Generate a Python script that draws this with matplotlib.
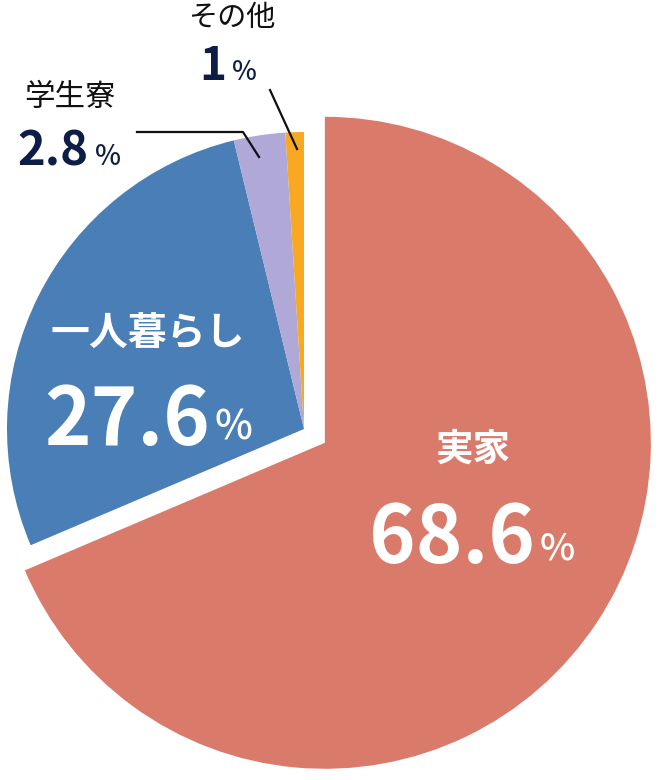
import matplotlib.pyplot as plt

plt.rcParams['font.family'] = ['Noto Sans CJK JP', 'DejaVu Sans']

labels = ['実家', '一人暮らし', '学生寮', 'その他']
values = [68.6, 27.6, 2.8, 1.0]
colors = ['#DA7A6B', '#4A7EB6', '#B0A8D6', '#F8A821']
value_text = ['68.6', '27.6', '2.8', '1']

W, H = 660, 780
fig = plt.figure(figsize=(6.6, 7.8), dpi=100)
ax = fig.add_axes([0, 0, 1, 1])

def py(y):
    # pixel y (top-down) -> data y
    return H - y

cx, cy = 304, py(429)
r_small = 297
wedges, _ = ax.pie(values, colors=colors, startangle=90, counterclock=False,
                   center=(cx, cy), radius=r_small, explode=[25, 0, 0, 0],
                   wedgeprops=dict(linewidth=0), frame=True)
# the main slice is drawn larger
wedges[0].set_radius(326)
ax.set_xlim(0, W)
ax.set_ylim(0, H)
ax.set_aspect('equal')
ax.axis('off')

navy = '#0E1D45'

# 実家
ax.text(473, py(449), labels[0], color='white', fontsize=27, fontweight='bold',
        ha='center', va='center')
ax.text(535, py(563), value_text[0], color='white', fontsize=57, fontweight='bold',
        ha='right', va='baseline')
ax.text(540, py(560), '%', color='white', fontsize=27, fontweight='medium',
        ha='left', va='baseline')

# 一人暮らし
ax.text(148, py(334), labels[1], color='white', fontsize=28, fontweight='bold',
        ha='center', va='center')
ax.text(210, py(445), value_text[1], color='white', fontsize=57, fontweight='bold',
        ha='right', va='baseline')
ax.text(215, py(440), '%', color='white', fontsize=29, fontweight='medium',
        ha='left', va='baseline')

# 学生寮
ax.text(70, py(97), labels[2], color='#111111', fontsize=22,
        ha='center', va='center')
ax.text(88, py(165), value_text[2], color=navy, fontsize=34, fontweight='bold',
        ha='right', va='baseline')
ax.text(95, py(165), '%', color=navy, fontsize=20, fontweight='medium',
        ha='left', va='baseline')
ax.plot([137, 243, 259], [py(132), py(132), py(157)], color='#111111', lw=1.6)

# その他
ax.text(232, py(18), labels[3], color='#111111', fontsize=21,
        ha='center', va='center')
ax.text(226, py(80), value_text[3], color=navy, fontsize=33, fontweight='bold',
        ha='right', va='baseline')
ax.text(232, py(80), '%', color=navy, fontsize=19, fontweight='medium',
        ha='left', va='baseline')
ax.plot([270, 297], [py(90), py(149)], color='#111111', lw=1.6)

fig.savefig('out.png', dpi=100, facecolor='white')
